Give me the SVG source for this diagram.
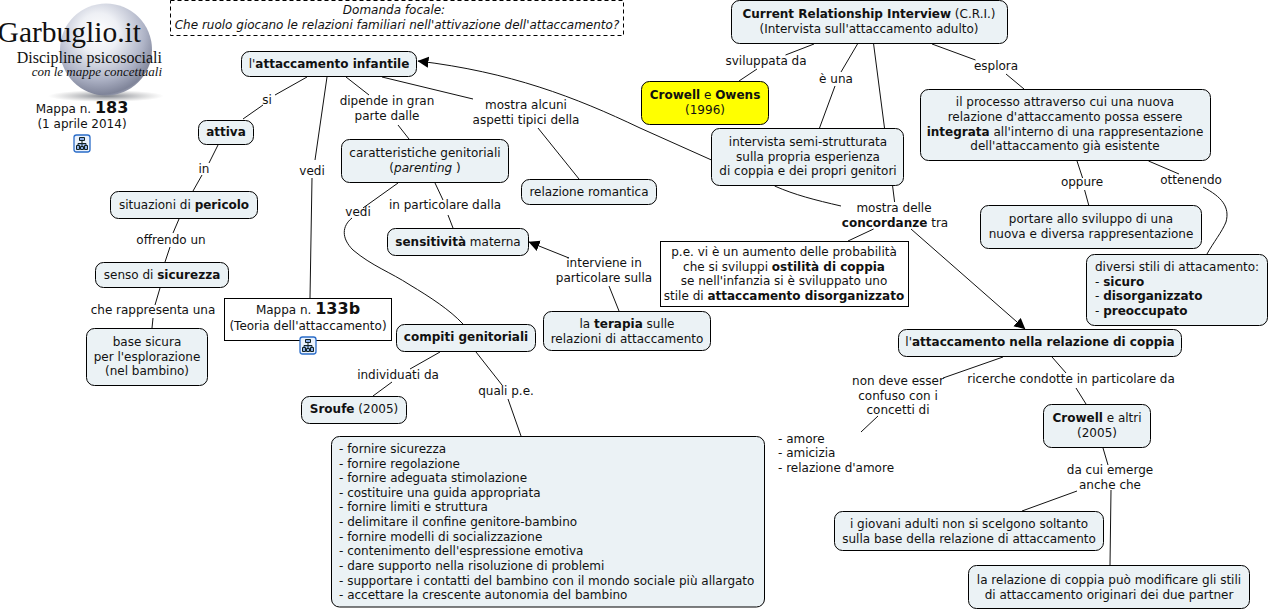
<svg xmlns="http://www.w3.org/2000/svg" width="1271" height="611" viewBox="0 0 1271 611">
<style>
text{font-family:"DejaVu Sans",Verdana,sans-serif;font-size:12px;fill:#111;text-anchor:middle}
.b{font-weight:bold}.i{font-style:italic}
.n{fill:#ebf2f5;stroke:#000;stroke-width:1}
.w{fill:#fff;stroke:#000;stroke-width:1}
.y{fill:#ffff00;stroke:#000;stroke-width:1}
.d{fill:#fff;stroke:#000;stroke-width:1;stroke-dasharray:4 3}
.c path{fill:none;stroke:#111;stroke-width:1}
.l{text-anchor:start}
.s{font-family:"Liberation Serif","Times New Roman",serif;text-anchor:end;fill:#111}
.big{font-size:16px;font-weight:bold}
</style>
<defs>
<radialGradient id="ball" cx="0.42" cy="0.32" r="0.72">
<stop offset="0" stop-color="#ffffff"/><stop offset="0.3" stop-color="#eef0f5"/><stop offset="0.7" stop-color="#aeb3c6"/><stop offset="0.93" stop-color="#7f8499"/><stop offset="1" stop-color="#a9adbd"/>
</radialGradient>
<radialGradient id="shad"><stop offset="0" stop-color="#555a66" stop-opacity="0.75"/><stop offset="1" stop-color="#888" stop-opacity="0"/></radialGradient>
<marker id="arrow" markerWidth="12" markerHeight="12" refX="10.500" refY="5.500" orient="auto" markerUnits="userSpaceOnUse"><path d="M0,0L11,5.500L0,11Z" fill="#000"/></marker>
<g id="ico"><rect x="0.500" y="0.500" width="16" height="17" rx="2.500" fill="#eaf2fd" stroke="#2a6cc8" stroke-width="1.300"/><path d="M6,3h5v3h-5zM8.500,6v6M4.500,11v-2h8v2M3,11h3v4h-3zM7,12h3v3h-3zM11,11h3v4h-3z" fill="#8fb0e8" stroke="#122" stroke-width="1"/></g>
</defs>
<g id="logo">
<ellipse cx="106" cy="96" rx="58" ry="6" fill="url(#shad)"/>
<circle cx="106" cy="49.500" r="46" fill="url(#ball)"/>
<text class="s" x="141" y="42" style="font-size:29.500px">Garbuglio.it</text>
<text class="s" x="162" y="63" style="font-size:16px">Discipline psicosociali</text>
<text class="s i" x="162" y="76" style="font-size:13px">con le mappe concettuali</text>
<text x="82" y="113">Mappa n. <tspan class="big">183</tspan></text>
<text x="82" y="128">(1 aprile 2014)</text>
<use href="#ico" x="73.500" y="134.500"/>
</g>
<g class="c" id="connectors">
<path d="M307,77L275,95M263,105L243,119"/>
<path d="M327,77L315,160M312,178L310,298"/>
<path d="M346,77L369,95M398,125L409,139"/>
<path d="M382,77L473,99M538,128L579,179"/>
<path d="M711.500,160L640,128C575,97 510,72 418,61" marker-end="url(#arrow)"/>
<path d="M218,145L209,163M202,175L193,191"/>
<path d="M179,219L173,233M170,247L165,262"/>
<path d="M160,288L155,305M153,318L152,328"/>
<path d="M398,183L363,208M352,218C342,226 341,238 353,250C372,266 390,272 410,285C430,297 450,310 463,324"/>
<path d="M435,183L443,200M448,215L453,228"/>
<path d="M569,258L529,242" marker-end="url(#arrow)"/>
<path d="M609,286L619,311"/>
<path d="M440,352L410,369M392,382L373,396"/>
<path d="M476,352L502,385M508,399L521,436"/>
<path d="M814,44L785.500,55M757,69L739,81"/>
<path d="M857.500,44L841,72M835,86L819.500,128"/>
<path d="M873.600,44L884.500,128"/>
<path d="M932,44L975.500,60M1006,74L1024,89"/>
<path d="M774.600,186C795,195 815,200 841,206M892.600,186L894.600,202"/>
<path d="M873.600,229L848,241"/>
<path d="M911,229L1025,329" marker-end="url(#arrow)"/>
<path d="M1077,161L1082.600,178M1084.600,190L1088.700,205"/>
<path d="M1148.500,161L1179,174M1203,187C1222,197 1230,207 1226,222C1222,232 1213,243 1207,254"/>
<path d="M1003,357L943,378M878,416L861,432"/>
<path d="M1052,357L1066,373M1076,388L1086,404"/>
<path d="M1103,448L1108,465M1077,491L1022,511M1111,490L1110,565"/>
</g>
<g id="labels">
<text x="267" y="104">si</text>
<text x="312" y="175">vedi</text>
<text x="387" y="105">dipende in gran</text><text x="387" y="120">parte dalle</text>
<text x="526" y="109">mostra alcuni</text><text x="526" y="124">aspetti tipici della</text>
<text x="204" y="173">in</text>
<text x="171" y="244">offrendo un</text>
<text x="153" y="314">che rappresenta una</text>
<text x="358" y="216">vedi</text>
<text x="445" y="209">in particolare dalla</text>
<text x="604" y="267">interviene in</text><text x="604" y="282">particolare sulla</text>
<text x="398" y="379">individuati da</text>
<text x="506" y="395">quali p.e.</text>
<text x="766" y="65">sviluppata da</text>
<text x="836" y="83">è una</text>
<text x="996" y="70">esplora</text>
<text x="894" y="212">mostra delle</text><text x="895" y="227"><tspan class="b">concordanze</tspan> tra</text>
<text x="1082" y="186">oppure</text>
<text x="1191" y="184">ottenendo</text>
<text x="898" y="385">non deve esser</text><text x="898" y="400">confuso con i</text><text x="898" y="414">concetti di</text>
<text x="1071" y="383">ricerche condotte in particolare da</text>
<text x="1110" y="474">da cui emerge</text><text x="1110" y="489">anche che</text>
<text class="l" x="778" y="443">- amore</text><text class="l" x="778" y="457">- amicizia</text><text class="l" x="778" y="472">- relazione d'amore</text>
</g>
<g id="n-domanda"><rect class="d" x="170.500" y="0.500" width="453" height="35"/><text class="i" x="394" y="14">Domanda focale:</text><text class="i" x="397" y="29">Che ruolo giocano le relazioni familiari nell'attivazione dell'attaccamento?</text></g>
<g id="n-infantile"><rect class="n" x="241.500" y="51.500" width="175" height="25" rx="8"/><text x="329" y="68">l'<tspan class="b">attaccamento infantile</tspan></text></g>
<g id="n-attiva"><rect class="n" x="198.500" y="120.500" width="55" height="24" rx="8"/><text class="b" x="226" y="136">attiva</text></g>
<g id="n-pericolo"><rect class="n" x="110.500" y="191.500" width="147" height="27" rx="8"/><text x="184" y="209">situazioni di <tspan class="b">pericolo</tspan></text></g>
<g id="n-sicurezza"><rect class="n" x="95.500" y="262.500" width="133" height="25" rx="8"/><text x="162" y="279">senso di <tspan class="b">sicurezza</tspan></text></g>
<g id="n-base"><rect class="n" x="86.500" y="328.500" width="121" height="57" rx="8"/><text x="147" y="346">base sicura</text><text x="147" y="361">per l'esplorazione</text><text x="147" y="375">(nel bambino)</text></g>
<g id="n-133b"><rect class="w" x="224.500" y="298.500" width="167" height="42"/><text x="308" y="314">Mappa n. <tspan class="big">133b</tspan></text><text x="308" y="330">(Teoria dell'attaccamento)</text><use href="#ico" x="299.500" y="336.500"/></g>
<g id="n-caratteristiche"><rect class="n" x="341.500" y="139.500" width="167" height="43" rx="8"/><text x="425" y="157">caratteristiche genitoriali</text><text x="425" y="172">(<tspan class="i">parenting</tspan> )</text></g>
<g id="n-romantica"><rect class="n" x="521.500" y="179.500" width="135" height="25" rx="8"/><text x="589" y="196">relazione romantica</text></g>
<g id="n-sensitivita"><rect class="n" x="387.500" y="228.500" width="141" height="27" rx="8"/><text x="458" y="246"><tspan class="b">sensitività</tspan> materna</text></g>
<g id="n-terapia"><rect class="n" x="543.500" y="311.500" width="167" height="39" rx="8"/><text x="627" y="328">la <tspan class="b">terapia</tspan> sulle</text><text x="627" y="343">relazioni di attaccamento</text></g>
<g id="n-compiti"><rect class="n" x="396.500" y="324.500" width="139" height="27" rx="8"/><text class="b" x="466" y="341">compiti genitoriali</text></g>
<g id="n-sroufe"><rect class="n" x="301.500" y="396.500" width="105" height="27" rx="8"/><text x="354" y="413"><tspan class="b">Sroufe</tspan> (2005)</text></g>
<g id="n-lista"><rect class="n" x="331.500" y="436.500" width="433" height="170.500" rx="8"/>
<text class="l" x="339" y="453">- fornire sicurezza</text><text class="l" x="339" y="468">- fornire regolazione</text><text class="l" x="339" y="482">- fornire adeguata stimolazione</text><text class="l" x="339" y="497">- costituire una guida appropriata</text><text class="l" x="339" y="511">- fornire limiti e struttura</text><text class="l" x="339" y="526">- delimitare il confine genitore-bambino</text><text class="l" x="339" y="541">- fornire modelli di socializzazione</text><text class="l" x="339" y="555">- contenimento dell'espressione emotiva</text><text class="l" x="339" y="570">- dare supporto nella risoluzione di problemi</text><text class="l" x="339" y="585">- supportare i contatti del bambino con il mondo sociale più allargato</text><text class="l" x="339" y="599">- accettare la crescente autonomia del bambino</text></g>
<g id="n-cri"><rect class="n" x="731.500" y="0.500" width="276" height="43" rx="8"/><text x="869" y="18"><tspan class="b">Current Relationship Interview</tspan> (C.R.I.)</text><text x="869" y="33">(Intervista sull'attaccamento adulto)</text></g>
<g id="n-owens"><rect class="y" x="641.500" y="81.500" width="127" height="43" rx="8"/><text x="705" y="99"><tspan class="b">Crowell</tspan> e <tspan class="b">Owens</tspan></text><text x="705" y="114">(1996)</text></g>
<g id="n-intervista"><rect class="n" x="711.500" y="128.500" width="192" height="57" rx="8"/><text x="808" y="146">intervista semi-strutturata</text><text x="808" y="161">sulla propria esperienza</text><text x="808" y="175">di coppia e dei propri genitori</text></g>
<g id="n-processo"><rect class="n" x="920.500" y="89.500" width="290" height="71" rx="8"/><text x="1065" y="106">il processo attraverso cui una nuova</text><text x="1065" y="121">relazione d'attaccamento possa essere</text><text x="1065" y="136"><tspan class="b">integrata</tspan> all'interno di una rappresentazione</text><text x="1065" y="150">dell'attaccamento già esistente</text></g>
<g id="n-portare"><rect class="n" x="980.500" y="205.500" width="221" height="43" rx="8"/><text x="1091" y="223">portare allo sviluppo di una</text><text x="1091" y="238">nuova e diversa rappresentazione</text></g>
<g id="n-stili"><rect class="n" x="1086.500" y="254.500" width="181" height="71" rx="8"/><text class="l" x="1095" y="271">diversi stili di attacamento:</text><text class="l" x="1095" y="286">- <tspan class="b">sicuro</tspan></text><text class="l" x="1095" y="300">- <tspan class="b">disorganizzato</tspan></text><text class="l" x="1095" y="315">- <tspan class="b">preoccupato</tspan></text></g>
<g id="n-pe"><rect class="w" x="660.500" y="241.500" width="248" height="65"/><text x="784" y="256">p.e. vi è un aumento delle probabilità</text><text x="784" y="271">che si sviluppi <tspan class="b">ostilità di coppia</tspan></text><text x="784" y="285">se nell'infanzia si è sviluppato uno</text><text x="784" y="300">stile di <tspan class="b">attaccamento disorganizzato</tspan></text></g>
<g id="n-coppia"><rect class="n" x="898.500" y="329.500" width="283" height="27" rx="8"/><text x="1040" y="346">l'<tspan class="b">attaccamento nella relazione di coppia</tspan></text></g>
<g id="n-altri"><rect class="n" x="1043.500" y="404.500" width="107" height="43" rx="8"/><text x="1097" y="422"><tspan class="b">Crowell</tspan> e altri</text><text x="1097" y="437">(2005)</text></g>
<g id="n-giovani"><rect class="n" x="834.500" y="511.500" width="269" height="39" rx="8"/><text x="969" y="528">i giovani adulti non si scelgono soltanto</text><text x="969" y="543">sulla base della relazione di attaccamento</text></g>
<g id="n-partner"><rect class="n" x="968.500" y="565.500" width="281" height="43" rx="8"/><text x="1109" y="584">la relazione di coppia può modificare gli stili</text><text x="1109" y="599">di attaccamento originari dei due partner</text></g>
</svg>
